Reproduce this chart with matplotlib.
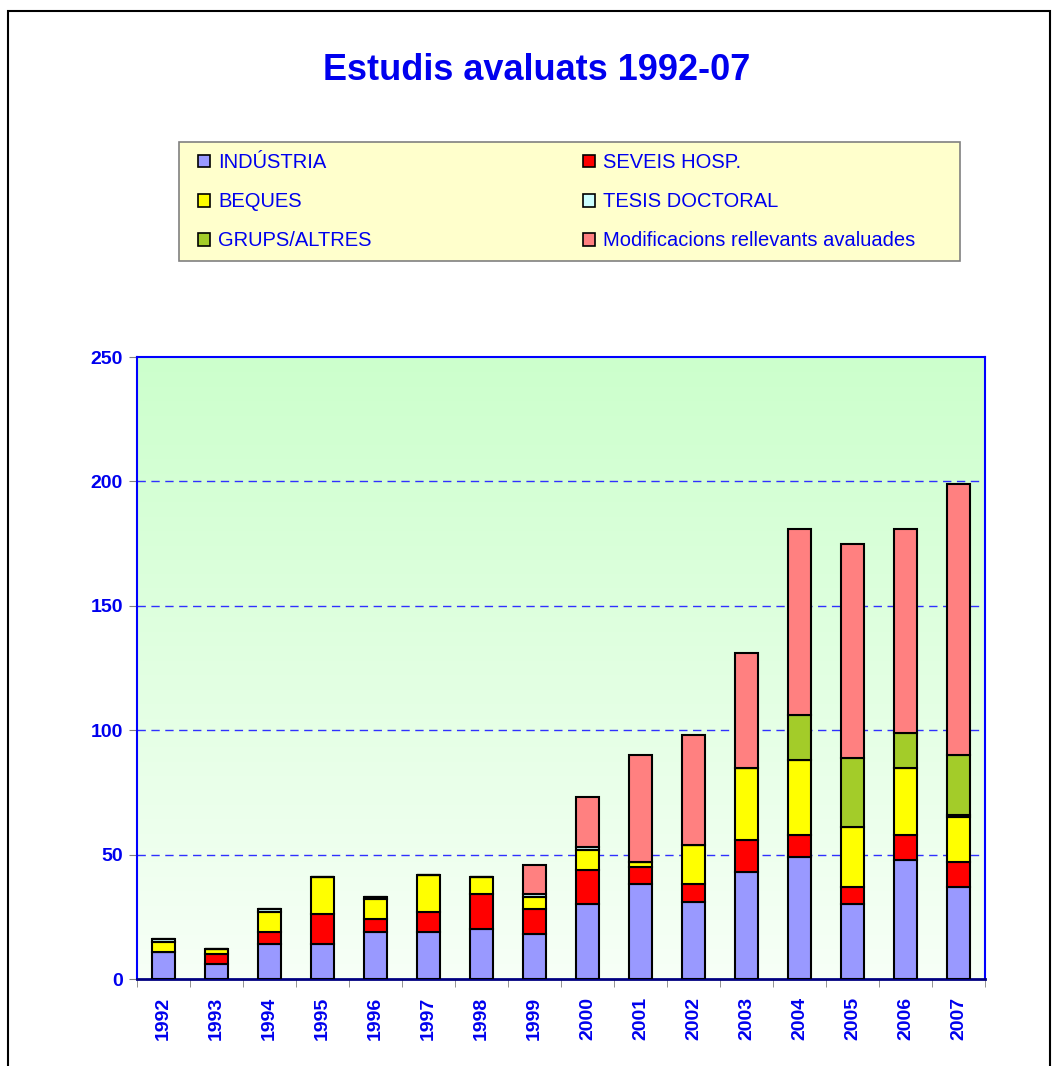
import numpy as np
import matplotlib
matplotlib.use("Agg")
import matplotlib.pyplot as plt
from matplotlib.colors import LinearSegmentedColormap
from matplotlib.patches import Rectangle, Patch

plt.rcParams['font.family'] = ['Liberation Sans', 'DejaVu Sans']

years = ['1992', '1993', '1994', '1995', '1996', '1997', '1998', '1999',
         '2000', '2001', '2002', '2003', '2004', '2005', '2006', '2007']
industria = [11, 6, 14, 14, 19, 19, 20, 18, 30, 38, 31, 43, 49, 30, 48, 37]
seveis    = [0, 4, 5, 12, 5, 8, 14, 10, 14, 7, 7, 13, 9, 7, 10, 10]
beques    = [4, 2, 8, 15, 8, 15, 7, 5, 8, 2, 16, 29, 30, 24, 27, 18]
tesis     = [1, 0, 1, 0, 1, 0, 0, 1, 1, 0, 0, 0, 0, 0, 0, 1]
grups     = [0, 0, 0, 0, 0, 0, 0, 0, 0, 0, 0, 0, 18, 28, 14, 24]
modif     = [0, 0, 0, 0, 0, 0, 0, 12, 20, 43, 44, 46, 75, 86, 82, 109]

series = [
    ('INDÚSTRIA', industria, '#9999FF'),
    ('SEVEIS HOSP.', seveis, '#FF0000'),
    ('BEQUES', beques, '#FFFF00'),
    ('TESIS DOCTORAL', tesis, '#CCFFFF'),
    ('GRUPS/ALTRES', grups, '#A3CC29'),
    ('Modificacions rellevants avaluades', modif, '#FF8080'),
]

W, H = 1054, 1066
fig = plt.figure(figsize=(W / 100, H / 100), dpi=100)
fig.patch.set_facecolor('white')

# outer chart border
fig.add_artist(Rectangle((8 / W, -0.05), (1050 - 8) / W, 1.05 - 11 / H,
                         transform=fig.transFigure, fill=False,
                         edgecolor='black', linewidth=1.5))

ax = fig.add_axes([137 / W, 1 - 979 / H, (985 - 137) / W, (979 - 357) / H])
ax.set_facecolor('none')

# gradient background
cmap = LinearSegmentedColormap.from_list('bg', ['#CCFFCC', '#F7FFF7'])
grad = np.linspace(0, 1, 256).reshape(-1, 1)
ax.imshow(grad, cmap=cmap, aspect='auto', extent=[0, 1, 0, 1],
          transform=ax.transAxes, zorder=0, origin='upper')

x = np.arange(len(years))
bottom = np.zeros(len(years))
handles = {}
for name, vals, col in series:
    v = np.array(vals, dtype=float)
    ax.bar(x, v, width=0.44, bottom=bottom, color=col, edgecolor='black',
           linewidth=1.5, zorder=3)
    bottom += v
    handles[name] = Patch(facecolor=col, edgecolor='black', linewidth=1.2)

ax.set_xlim(-0.5, len(years) - 0.5)
ax.set_ylim(0, 250)
ax.set_yticks(np.arange(0, 251, 50))
ax.set_yticklabels([str(v) for v in range(0, 251, 50)], fontsize=14,
                   fontweight='bold', color='#0000EE')
ax.tick_params(axis='y', direction='out', length=6, color='#808080', pad=4)

ax.set_xticks(x)
ax.set_xticklabels(years, rotation=90, fontsize=14, fontweight='bold',
                   color='#0000EE')
ax.set_xticks(np.arange(len(years) + 1) - 0.5, minor=True)
ax.tick_params(axis='x', which='major', length=0, pad=13)
ax.tick_params(axis='x', which='minor', direction='out', length=6,
               color='#808080')

for yv in [50, 100, 150, 200]:
    ax.axhline(yv, color='#3030FF', linewidth=1.0, dashes=(6, 4), zorder=1)

for s in ['left', 'right', 'top']:
    ax.spines[s].set_color('#0000FF')
    ax.spines[s].set_linewidth(1.5)
ax.spines['bottom'].set_color('#000080')
ax.spines['bottom'].set_linewidth(2)

fig.text(537 / W, 1 - 70 / H, 'Estudis avaluats 1992-07', ha='center',
         va='center', fontsize=26, fontweight='bold', color='#0000EE')

# legend box
fig.add_artist(Rectangle((179 / W, 1 - 261 / H), (960 - 179) / W,
                         (261 - 142) / H, transform=fig.transFigure,
                         facecolor='#FFFFCC', edgecolor='#808080',
                         linewidth=1.2, zorder=1))

order = ['INDÚSTRIA', 'BEQUES', 'GRUPS/ALTRES', 'SEVEIS HOSP.',
         'TESIS DOCTORAL', 'Modificacions rellevants avaluades']
leg = fig.legend([handles[n] for n in order], order, ncol=2,
                 bbox_to_anchor=(187 / W, 1 - 142 / H),
                 loc='upper left', borderaxespad=0,
                 frameon=False, fontsize=14.5,
                 handlelength=0.6, handleheight=0.6, handletextpad=0.4,
                 labelspacing=1.0, borderpad=0.55, columnspacing=10.5,
                 labelcolor='#0000EE')
leg.set_zorder(2)

fig.savefig('out.png', dpi=100)
